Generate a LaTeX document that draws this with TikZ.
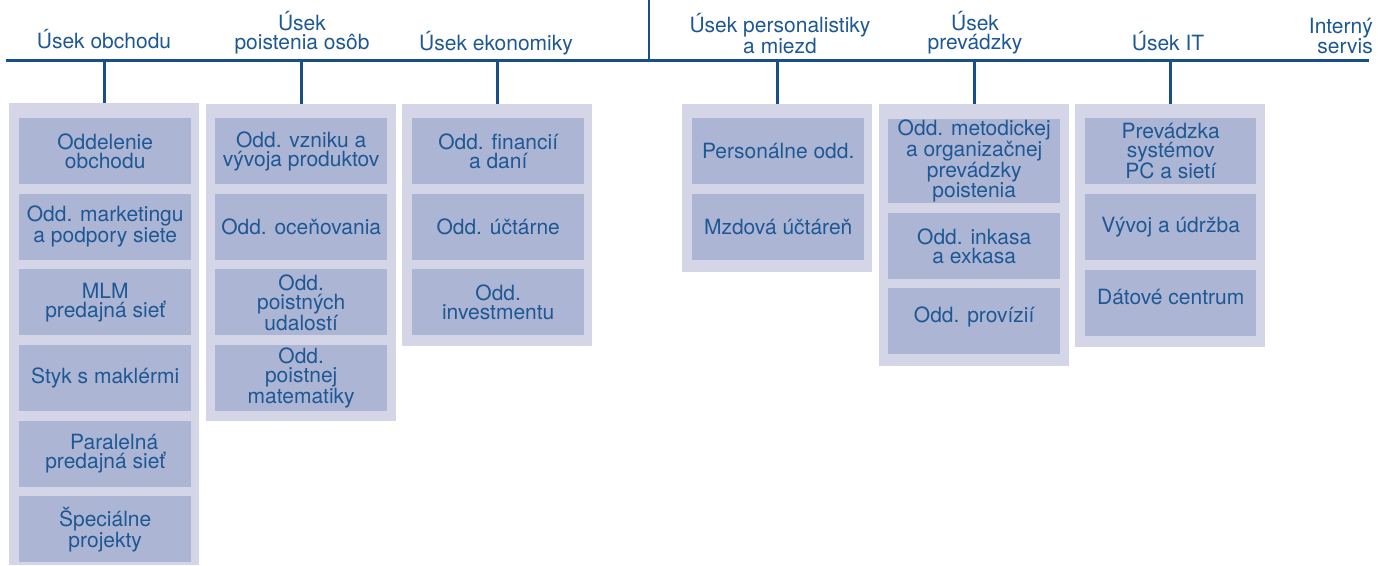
\documentclass[tikz,border=0pt]{standalone}
\usepackage{fontspec}
\setmainfont{TeX Gyre Heros}
\definecolor{linec}{RGB}{24,78,137}
\definecolor{txtc}{RGB}{30,88,148}
\definecolor{outerc}{RGB}{212,213,231}
\definecolor{innerc}{RGB}{173,181,212}
\tikzset{
  outerbox/.style={fill=outerc, draw=none, anchor=north west, inner sep=0pt},
  unitbox/.style={fill=innerc, draw=none, anchor=north west, inner sep=0pt,
    minimum width=172pt, minimum height=66pt, text=txtc, align=center,
    font=\fontsize{21}{19}\selectfont},
  headlabel/.style={text=txtc, align=center, inner sep=0pt,
    font=\fontsize{21}{19}\selectfont},
  conn/.style={draw=linec, line width=2.6pt}
}
\begin{document}
\begin{tikzpicture}[x=1pt,y=-1pt]
\useasboundingbox (0,0) rectangle (1378,565);
% main bar
\coordinate (barW) at (6,60.5);
\coordinate (barE) at (1369,60.5);
\coordinate (topV) at (649,0);
\coordinate (botV) at (649,60.5);
\draw[conn] (barW) -- (barE);
\draw[conn] (topV) -- (botV);
% outer column boxes
\node[outerbox, minimum width=190pt, minimum height=462pt] (o1) at (9,103) {};
\node[outerbox, minimum width=190pt, minimum height=317pt] (o2) at (206,104) {};
\node[outerbox, minimum width=190pt, minimum height=242pt] (o3) at (402,104) {};
\node[outerbox, minimum width=190pt, minimum height=168pt] (o4) at (682,104) {};
\node[outerbox, minimum width=190pt, minimum height=262pt] (o5) at (879,104) {};
\node[outerbox, minimum width=190pt, minimum height=243pt] (o6) at (1075,104) {};
% connectors
\foreach \o in {o1,o2,o3,o4,o5,o6}{
  \draw[conn] (\o.north |- barW) -- (\o.north);
}
% head labels
\node[headlabel, anchor=base] (h1) at (104,48) {Úsek obchodu};
\node[headlabel, anchor=south] (h2) at (302,54) {Úsek\\poistenia osôb};
\node[headlabel, anchor=base] (h3) at (496,50) {Úsek ekonomiky};
\node[headlabel, anchor=south] (h4) at (780,54) {Úsek personalistiky\\a miezd};
\node[headlabel, anchor=south] (h5) at (975,54) {Úsek\\prevádzky};
\node[headlabel, anchor=base] (h6) at (1168,50) {Úsek IT};
\node[headlabel, anchor=south east, align=right] (h7) at (1373,54) {Interný\\servis};
% column 1
\node[unitbox] (u11) at (19,118) {Oddelenie\\obchodu};
\node[unitbox] (u12) at (19,193.6) {Odd. marketingu\\a podpory siete};
\node[unitbox] (u13) at (19,269.2) {MLM\\predajná sieť};
\node[unitbox] (u14) at (19,344.8) {Styk s maklérmi};
\node[unitbox] (u15) at (19,420.4) {\hspace*{18pt}Paralelná\\predajná sieť};
\node[unitbox] (u16) at (19,496) {Špeciálne\\projekty};
% column 2
\node[unitbox, font=\fontsize{21}{19}\selectfont] (u21) at (215,118) {Odd. vzniku a\\vývoja produktov};
\node[unitbox] (u22) at (215,193.6) {Odd. oceňovania};
\node[unitbox, font=\fontsize{21}{19}\selectfont] (u23) at (215,269.2) {Odd.\\poistných\\udalostí};
\node[unitbox, font=\fontsize{21}{18.5}\selectfont] (u24) at (215,344.8) {Odd.\\poistnej\\matematiky};
% column 3
\node[unitbox] (u31) at (412,118) {Odd. financií\\a daní};
\node[unitbox] (u32) at (412,193.6) {Odd. účtárne};
\node[unitbox] (u33) at (412,269.2) {Odd.\\investmentu};
% column 4
\node[unitbox] (u41) at (692,118) {Personálne odd.};
\node[unitbox] (u42) at (692,193.6) {Mzdová účtáreň};
% column 5
\node[unitbox, minimum height=84pt, font=\fontsize{21}{18.5}\selectfont] (u51) at (888,119) {Odd. metodickej\\a organizačnej\\prevádzky\\poistenia};
\node[unitbox] (u52) at (888,213) {Odd. inkasa\\a exkasa};
\node[unitbox, text depth=14pt] (u53) at (888,288) {Odd. provízií};
% column 6
\node[unitbox, minimum width=171pt, font=\fontsize{21}{19}\selectfont] (u61) at (1085,118) {Prevádzka\\systémov\\PC a sietí};
\node[unitbox, minimum width=171pt] (u62) at (1085,194) {Vývoj a údržba};
\node[unitbox, minimum width=171pt, text depth=12pt] (u63) at (1085,270) {Dátové centrum};
\end{tikzpicture}
\end{document}
